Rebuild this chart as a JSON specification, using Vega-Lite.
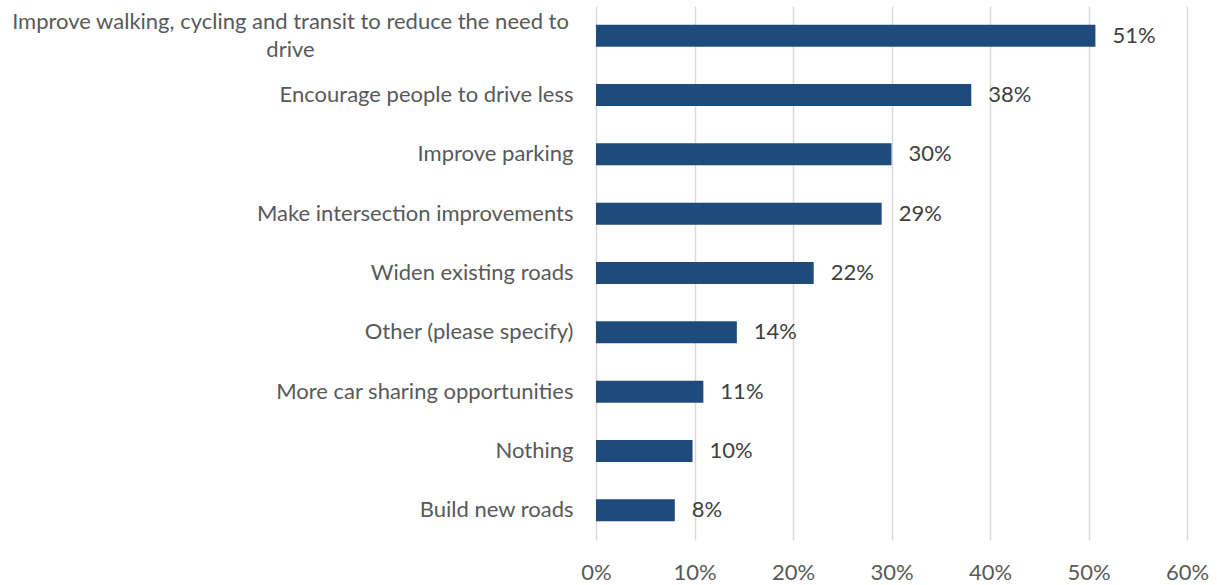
{
  "$schema": "https://vega.github.io/schema/vega-lite/v6.json",
  "autosize": "none",
  "width": 591,
  "height": 534,
  "padding": {"left": 596, "top": 6, "right": 30, "bottom": 45},
  "background": "white",
  "config": {
    "view": {"stroke": null},
    "font": "Lato",
    "axis": {"labelFont": "Lato", "labelColor": "#595959", "labelFontSize": 22, "domain": false, "ticks": false}
  },
  "data": {
    "values": [
      {"option": "Improve walking, cycling and transit to reduce the need to", "value": 0.507, "order": 1},
      {"option": "Encourage people to drive less", "value": 0.381, "order": 2},
      {"option": "Improve parking", "value": 0.300, "order": 3},
      {"option": "Make intersection improvements", "value": 0.290, "order": 4},
      {"option": "Widen existing roads", "value": 0.221, "order": 5},
      {"option": "Other (please specify)", "value": 0.143, "order": 6},
      {"option": "More car sharing opportunities", "value": 0.109, "order": 7},
      {"option": "Nothing", "value": 0.098, "order": 8},
      {"option": "Build new roads", "value": 0.080, "order": 9}
    ]
  },
  "encoding": {
    "y": {
      "field": "option",
      "type": "nominal",
      "sort": {"field": "order", "order": "ascending"},
      "scale": {"paddingInner": 0.63, "paddingOuter": 0.315},
      "axis": {
        "title": null,
        "grid": false,
        "labelLimit": 700,
        "labelLineHeight": 28,
        "labelExpr": "datum.value == 'Improve walking, cycling and transit to reduce the need to' ? [datum.value, 'drive'] : datum.value",
        "labelAlign": {"condition": {"test": "datum.value == 'Improve walking, cycling and transit to reduce the need to'", "value": "center"}, "value": "right"},
        "labelPadding": {"condition": {"test": "datum.value == 'Improve walking, cycling and transit to reduce the need to'", "value": 306}, "value": 23},
        "labelOffset": {"condition": {"test": "datum.value == 'Improve walking, cycling and transit to reduce the need to'", "value": -14}, "value": 0}
      }
    },
    "x": {
      "field": "value",
      "type": "quantitative",
      "scale": {"domain": [0, 0.6], "nice": false},
      "axis": {
        "title": null,
        "format": ".0%",
        "values": [0, 0.1, 0.2, 0.3, 0.4, 0.5, 0.6],
        "grid": true,
        "gridColor": "#d9d9d9",
        "gridWidth": 1.5,
        "labelPadding": 22,
        "labelFlush": false
      }
    }
  },
  "layer": [
    {"mark": {"type": "bar", "color": "#1f4a7c"}},
    {
      "mark": {"type": "text", "align": "left", "dx": 17, "fontSize": 22, "color": "#404040", "font": "Lato"},
      "encoding": {"text": {"field": "value", "type": "quantitative", "format": ".0%"}}
    }
  ]
}
